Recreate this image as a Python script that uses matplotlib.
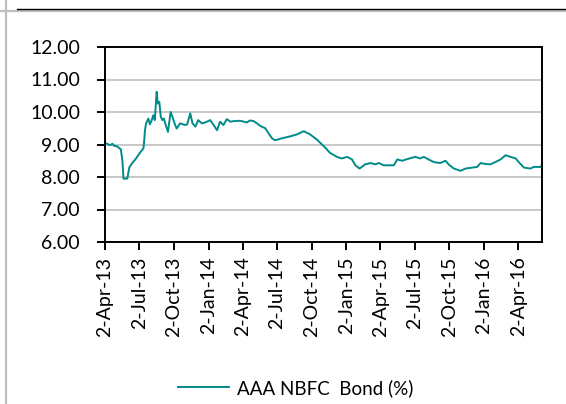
import matplotlib
matplotlib.use("Agg")
import matplotlib.pyplot as plt
from matplotlib.lines import Line2D
import pandas as pd

plt.rcParams['font.family'] = ['Lato', 'DejaVu Sans']

# AAA NBFC bond yield (%)
dates = [
    "2013-04-02", "2013-04-08", "2013-04-15", "2013-04-22", "2013-04-26", "2013-05-03",
    "2013-05-14", "2013-05-18", "2013-05-21", "2013-05-31", "2013-06-04", "2013-06-06",
    "2013-06-16", "2013-06-22", "2013-06-29", "2013-07-06", "2013-07-13", "2013-07-15",
    "2013-07-17", "2013-07-20", "2013-07-26", "2013-07-30", "2013-08-03", "2013-08-08",
    "2013-08-12", "2013-08-17", "2013-08-20", "2013-08-24", "2013-08-28", "2013-09-01",
    "2013-09-05", "2013-09-10", "2013-09-16", "2013-09-23", "2013-09-28", "2013-10-05",
    "2013-10-09", "2013-10-18", "2013-10-31", "2013-11-06", "2013-11-14", "2013-11-20",
    "2013-11-28", "2013-12-05", "2013-12-15", "2013-12-24", "2014-01-06", "2014-01-15",
    "2014-01-24", "2014-02-01", "2014-02-10", "2014-02-19", "2014-03-01", "2014-03-09",
    "2014-03-26", "2014-04-13", "2014-04-22", "2014-05-01", "2014-05-10", "2014-05-19",
    "2014-06-01", "2014-06-10", "2014-06-19", "2014-06-27", "2014-07-15", "2014-08-06",
    "2014-08-24", "2014-09-11", "2014-09-28", "2014-10-16", "2014-11-03", "2014-11-20",
    "2014-12-08", "2014-12-21", "2015-01-04", "2015-01-17", "2015-01-26", "2015-02-06",
    "2015-02-21", "2015-03-07", "2015-03-20", "2015-03-29", "2015-04-11", "2015-05-08",
    "2015-05-17", "2015-05-30", "2015-06-12", "2015-07-04", "2015-07-17", "2015-07-26",
    "2015-08-08", "2015-08-22", "2015-09-08", "2015-09-22", "2015-09-30", "2015-10-14",
    "2015-11-01", "2015-11-14", "2015-12-02", "2015-12-15", "2015-12-24", "2016-01-06",
    "2016-01-19", "2016-02-01", "2016-02-15", "2016-02-28", "2016-03-12", "2016-03-26",
    "2016-04-03", "2016-04-17", "2016-05-04", "2016-05-13", "2016-06-02", "2016-06-03",
]
yields = [
    9.05, 9.02, 8.98, 9.02, 8.96, 8.95,
    8.85, 8.52, 7.95, 7.95, 8.20, 8.31,
    8.47, 8.55, 8.67, 8.78, 8.88, 9.13,
    9.44, 9.65, 9.80, 9.62, 9.72, 9.90,
    9.75, 10.62, 10.26, 10.31, 9.85, 9.75,
    9.80, 9.60, 9.39, 10.00, 9.85, 9.60,
    9.49, 9.65, 9.60, 9.62, 9.96, 9.65,
    9.55, 9.75, 9.65, 9.68, 9.75, 9.60,
    9.44, 9.70, 9.60, 9.78, 9.70, 9.72,
    9.73, 9.68, 9.74, 9.72, 9.65, 9.57,
    9.50, 9.34, 9.19, 9.13, 9.19, 9.25,
    9.31, 9.41, 9.31, 9.15, 8.95, 8.74,
    8.62, 8.57, 8.62, 8.54, 8.36, 8.26,
    8.39, 8.43, 8.39, 8.43, 8.36, 8.36,
    8.54, 8.50, 8.55, 8.62, 8.57, 8.62,
    8.54, 8.46, 8.43, 8.50, 8.39, 8.26,
    8.19, 8.26, 8.29, 8.31, 8.43, 8.40,
    8.39, 8.46, 8.54, 8.67, 8.62, 8.57,
    8.46, 8.29, 8.26, 8.31, 8.31, 8.38,
]

tick_dates = ["2013-04-02", "2013-07-02", "2013-10-02", "2014-01-02", "2014-04-02",
              "2014-07-02", "2014-10-02", "2015-01-02", "2015-04-02", "2015-07-02",
              "2015-10-02", "2016-01-02", "2016-04-02"]
tick_labels = ["2-Apr-13", "2-Jul-13", "2-Oct-13", "2-Jan-14", "2-Apr-14", "2-Jul-14",
               "2-Oct-14", "2-Jan-15", "2-Apr-15", "2-Jul-15", "2-Oct-15", "2-Jan-16",
               "2-Apr-16"]
y_ticks = [6, 7, 8, 9, 10, 11, 12]
series_name = "AAA NBFC  Bond (%)"

x = pd.to_datetime(dates)
xt = pd.to_datetime(tick_dates)

fig = plt.figure(figsize=(5.66, 4.04), dpi=100)
ax = fig.add_axes([105 / 566, 1 - 242 / 404, (541.7 - 105) / 566, (242 - 47) / 404])

line, = ax.plot(x, yields, color="#008B8B", lw=1.4, label=series_name)

ax.set_xlim(x[0], x[-1])
ax.set_ylim(6, 12)
ax.set_yticks(y_ticks)
ax.set_yticklabels([f"{v:.2f}" for v in y_ticks])
ax.set_xticks(xt)
ax.set_xticklabels(tick_labels, rotation=90)

ax.grid(axis="y", color="#c4c4c4", lw=1.3)
ax.set_axisbelow(True)
for s in ax.spines.values():
    s.set_linewidth(1.4)
    s.set_color("black")

ax.tick_params(axis="y", direction="out", length=6, width=1.4, pad=12, labelsize=14)
ax.tick_params(axis="x", direction="out", length=5.5, width=1.4, pad=5, labelsize=14)

fig.legend(handles=[line], loc="center", bbox_to_anchor=(296 / 566, 1 - 388 / 404),
           frameon=False, fontsize=13.5, handlelength=2.7, handletextpad=0.45)

# page frame lines
fig.add_artist(Line2D([6 / 566, 6 / 566], [0, 1], transform=fig.transFigure,
                      color="#bfbfbf", lw=1.6))
fig.add_artist(Line2D([0, 1], [1 - 11 / 404, 1 - 11 / 404], transform=fig.transFigure,
                      color="#bfbfbf", lw=1.6))
fig.add_artist(Line2D([17 / 566, 1], [1 - 9.3 / 404, 1 - 9.3 / 404], transform=fig.transFigure,
                      color="black", lw=1.0))

fig.savefig("out.png", dpi=100)
